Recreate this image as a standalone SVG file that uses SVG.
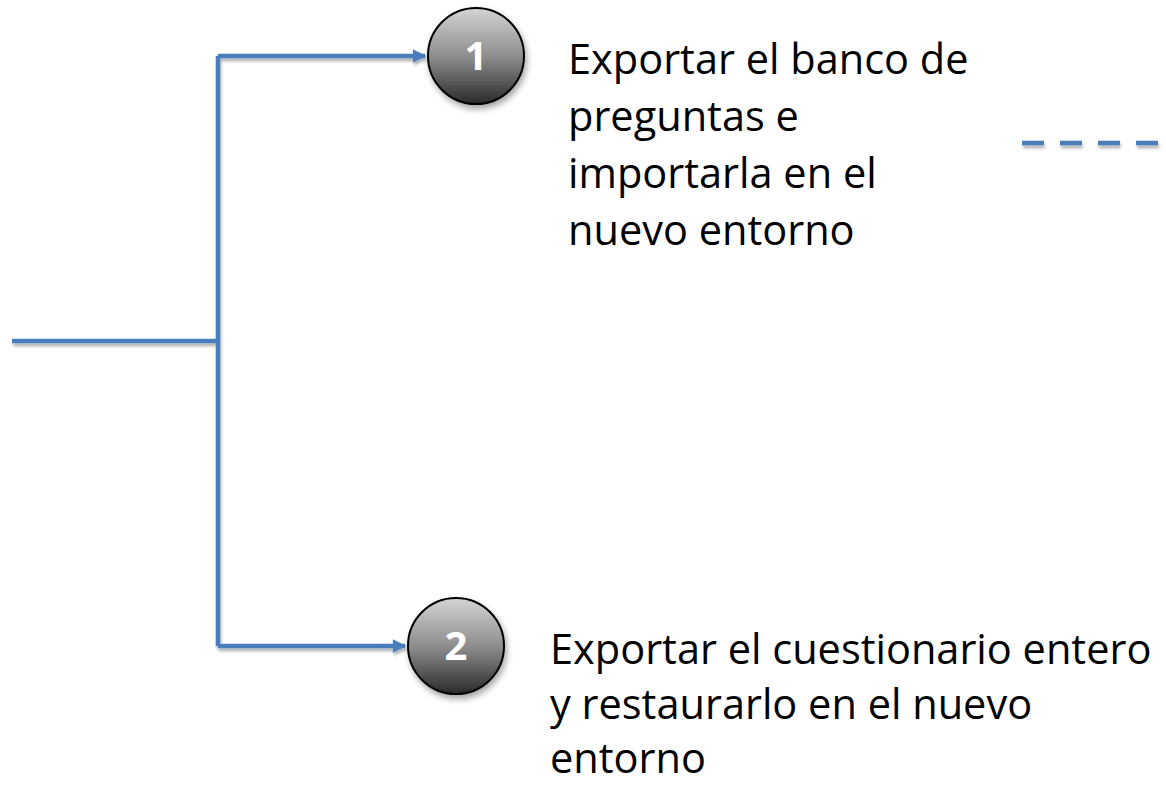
<svg xmlns="http://www.w3.org/2000/svg" width="1166" height="785" viewBox="0 0 1166 785">
<defs>
<style>
.conn{fill:none;stroke:#4A7EBB;stroke-width:4.5}
.lbl{font-family:"Open Sans","Noto Sans",sans-serif;font-size:41.5px;fill:#000}
.num{font-family:"Open Sans","Liberation Sans",sans-serif;font-size:40px;font-weight:bold;fill:#fff;text-anchor:middle}
.ball{fill:url(#g);stroke:#000;stroke-width:2}
</style>
<linearGradient id="g" x1="0" y1="0" x2="0" y2="1">
<stop offset="0" stop-color="#d4d4d4"/>
<stop offset="0.5" stop-color="#8e8e8e"/>
<stop offset="1" stop-color="#2a2a2a"/>
</linearGradient>
<filter id="sh" x="-20%" y="-20%" width="150%" height="150%">
<feDropShadow dx="2" dy="4" stdDeviation="3" flood-color="#000" flood-opacity="0.35"/>
</filter>
<filter id="lsh" x="-5%" y="-50%" width="110%" height="300%">
<feDropShadow dx="1" dy="3" stdDeviation="1.5" flood-color="#000" flood-opacity="0.3"/>
</filter>
<marker id="ah" viewBox="0 0 10 10" refX="9" refY="5" markerWidth="3.4" markerHeight="3" orient="auto" markerUnits="strokeWidth">
<path d="M0,0 L10,5 L0,10 z" fill="#4A7EBB"/>
</marker>
</defs>
<g id="connectors" filter="url(#lsh)">
<path class="conn" d="M12,341 H218"/>
<path class="conn" d="M218,56 V646"/>
<path class="conn" d="M218,56 H425" marker-end="url(#ah)"/>
<path class="conn" d="M218,646 H405" marker-end="url(#ah)"/>
<path class="conn" d="M1022,143 H1160" stroke-dasharray="22 16" stroke-width="5"/>
</g>
<g id="node1">
<circle class="ball" cx="476" cy="56" r="48" filter="url(#sh)"/>
<text class="num" x="476" y="70">1</text>
</g>
<g id="node2">
<circle class="ball" cx="456" cy="646" r="48" filter="url(#sh)"/>
<text class="num" x="456" y="660">2</text>
</g>
<g id="text1">
<text class="lbl" x="568" y="74">Exportar el banco de</text>
<text class="lbl" x="568" y="131">preguntas e</text>
<text class="lbl" x="568" y="188">importarla en el</text>
<text class="lbl" x="568" y="245">nuevo entorno</text>
</g>
<g id="text2">
<text class="lbl" x="550" y="664">Exportar el cuestionario entero</text>
<text class="lbl" x="550" y="719">y restaurarlo en el nuevo</text>
<text class="lbl" x="550" y="773">entorno</text>
</g>
</svg>
